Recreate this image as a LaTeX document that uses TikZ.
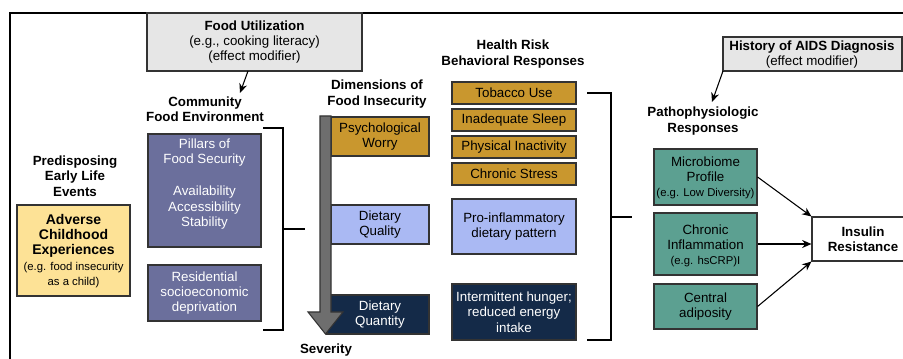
\documentclass[tikz,border=0pt]{standalone}
\usepackage{fontspec}
\setmainfont{Liberation Sans}
\usetikzlibrary{fit,arrows.meta}
\definecolor{pur}{RGB}{107,111,156}
\definecolor{gold}{RGB}{201,151,46}
\definecolor{lblue}{RGB}{170,185,243}
\definecolor{navy}{RGB}{20,42,72}
\definecolor{teal2}{RGB}{92,160,145}
\definecolor{yel}{RGB}{253,226,150}
\definecolor{lgray}{RGB}{230,230,230}
\definecolor{agray}{RGB}{110,110,110}
\begin{document}
\begin{tikzpicture}[x=0.75pt,y=-0.75pt,
  bx/.style={draw=black!80, line width=0.8pt, inner sep=0pt, align=center,
    font=\fontsize{10}{11.5}\selectfont},
  hd/.style={align=center, inner sep=0pt, font=\fontsize{10}{11.6}\selectfont\bfseries},
  txt/.style={align=center, inner sep=0pt, font=\fontsize{10}{11.5}\selectfont},
  brk/.style={line width=1.3pt, black},
  arr/.style={-{Stealth[length=7pt,width=6pt]}, line width=0.8pt},
  purb/.style={bx, fill=pur, text=white},
  goldb/.style={bx, fill=gold},
  blueb/.style={bx, fill=lblue},
  navyb/.style={bx, fill=navy, text=white},
  tealb/.style={bx, fill=teal2},
]
\useasboundingbox (0,0) rectangle (903,359);
% outer frame
\draw[line width=1.3pt] (10,370) -- (10,13) -- (910,13);

% Food utilization
\node[bx, fill=lgray, fit={(147,13) (362,71)}] (fu) {};
\node[txt] (futxt) at (254.5,42) {\textbf{Food Utilization}\\(e.g., cooking literacy)\\(effect modifier)};
\coordinate (fuA) at (248,71);
\coordinate (fuB) at (240,93);
\draw[arr] (fuA) -- (fuB);

% Community food environment
\node[hd] (cfe) at (205,109) {Community\\Food Environment};
\node[purb, fit={(148,134) (261,247)}] (pil) {};
\node[txt, text=white] (piltxt) at (204.5,184) {Pillars of\\Food Security\\[12.5pt]Availability\\Accessibility\\Stability};
\node[purb, fit={(148,265) (261,321)}] (res) {};
\node[txt, text=white] (restxt) at (204.5,293) {Residential\\socioeconomic\\deprivation};
\draw[brk] (263,128) -- (283,128) -- (283,330) -- (263,330);
\draw[brk] (283,229) -- (305,229);

% Predisposing
\node[hd] (pre) at (75,176) {Predisposing\\Early Life\\Events};
\node[bx, fill=yel, fit={(17,205) (130,296)}] (ace) {};
\node[txt] (acetxt) at (73.5,251) {\textbf{\fontsize{10.5}{16}\selectfont Adverse}\\\textbf{\fontsize{10.5}{12}\selectfont Childhood}\\\textbf{\fontsize{10.5}{12}\selectfont Experiences}\\{\fontsize{8.5}{12}\selectfont (e.g. food insecurity}\\{\fontsize{8.5}{11.5}\selectfont as a child)}};

% Dimensions
\node[hd] (dim) at (377,94) {Dimensions of\\Food Insecurity};
\node[goldb, fit={(331,117) (429,156)}] (psy) {};
\node[txt] (psytxt) at (380,136.5) {Psychological\\Worry};
\node[blueb, fit={(331,205) (429,244)}] (dq) {};
\node[txt] (dqtxt) at (380,224.5) {Dietary\\Quality};
\node[navyb, fit={(327,295) (429,334)}] (dqn) {};
\node[txt, text=white] (dqntxt) at (380,314.5) {Dietary\\Quantity};
\draw[fill=agray, draw=black!80, line width=0.8pt] (320,116) -- (331,116) -- (331,312) -- (343,312) -- (325.5,334) -- (308,312) -- (320,312) -- cycle;
\node[hd] (sev) at (326,350) {Severity};

% Health risk
\node[hd] (hr) at (513,54) {Health Risk\\Behavioral Responses};
\node[goldb, fit={(452,82) (576,104)}] (tob) {};
\node[txt] (tobt) at (tob.center) {Tobacco Use};
\node[goldb, fit={(452,109) (576,131)}] (slp) {};
\node[txt] (slpt) at (slp.center) {Inadequate Sleep};
\node[goldb, fit={(452,136) (576,158)}] (ina) {};
\node[txt] (inat) at (ina.center) {Physical Inactivity};
\node[goldb, fit={(452,163) (576,185)}] (str) {};
\node[txt] (strt) at (str.center) {Chronic Stress};
\node[blueb, fit={(452,199) (576,254)}] (pro) {};
\node[txt] (prot) at (pro.center) {Pro-inflammatory\\dietary pattern};
\node[navyb, fit={(452,284) (576,340)}] (hun) {};
\node[txt, text=white] (hunt) at (hun.center) {Intermittent hunger;\\reduced energy\\intake};
\draw[brk] (587,93) -- (611,93) -- (611,340) -- (587,340);
\draw[brk] (611,217) -- (632,217);

% History of AIDS
\node[bx, fill=lgray, fit={(723,37) (902,71)}] (aids) {};
\node[txt] (aidstxt) at (812,54.5) {\textbf{History of AIDS Diagnosis}\\(effect modifier)};
\coordinate (aA) at (723,71);
\coordinate (aB) at (712,102);
\draw[arr] (aA) -- (aB);

% Pathophysiologic
\node[hd] (pat) at (703,121) {Pathophysiologic\\Responses};
\node[tealb, fit={(654,149) (757,205)}] (mic) {};
\node[txt] (mict) at (705.5,178) {Microbiome\\Profile\\{\fontsize{8.5}{10}\selectfont (e.g. Low Diversity)}};
\node[tealb, fit={(654,213) (757,275)}] (inf) {};
\node[txt] (inft) at (705.5,246) {Chronic\\Inflammation\\{\fontsize{8.5}{10}\selectfont (e.g. hsCRP)I}};
\node[tealb, fit={(654,284) (757,329)}] (adi) {};
\node[txt] (adit) at (adi.center) {Central\\adiposity};

% Insulin resistance
\node[bx, fill=white, fit={(812,217) (914,261)}] (ins) {};
\node[hd] (instxt) at (ins.center) {Insulin\\Resistance};
\draw[arr] (mic.east) -- (ins.north west);
\draw[arr] (inf.east) -- (inf.east -| ins.west);
\draw[arr] (adi.east) -- (ins.south west);
\end{tikzpicture}
\end{document}
